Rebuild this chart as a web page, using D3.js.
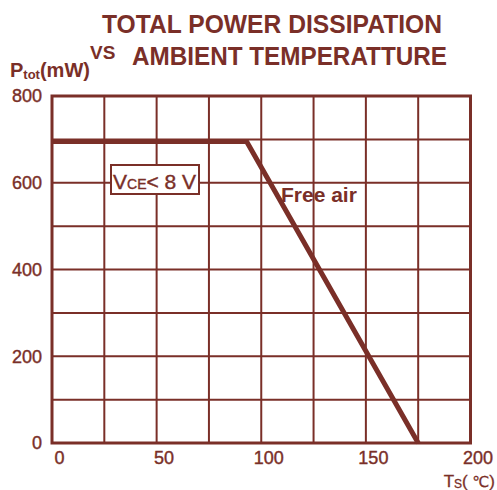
<!DOCTYPE html>
<html>
<head>
<meta charset="utf-8">
<script src="https://cdn.jsdelivr.net/npm/d3@7"></script>
<style>
  body { margin: 0; background: #fff; }
  svg text { font-family: "Liberation Sans", Arial, sans-serif; fill: #7a2f28; }
</style>
</head>
<body>
<div id="chart-area"></div>
<script>
const width = 497;
const height = 490;
const ink = "#7a2f28";

// curve: ambient temperature (deg C) vs total power (mW)
const temps = [0, 93, 175];
const power = [695, 695, 0];

const xTicks = [0, 50, 100, 150, 200];
const yTicks = [0, 200, 400, 600, 800];
const xGrid = d3.range(0, 201, 25);
const yGrid = d3.range(0, 801, 100);

const svg = d3.select("#chart-area")
    .append("svg")
    .attr("width", width)
    .attr("height", height);

const x = d3.scaleLinear().domain([0, 200]).range([52, 470.5]);
const y = d3.scaleLinear().domain([0, 800]).range([443, 96]);

// grid
svg.append("g").selectAll("line")
    .data(xGrid)
    .enter().append("line")
    .attr("x1", d => x(d)).attr("x2", d => x(d))
    .attr("y1", y(0)).attr("y2", y(800))
    .attr("stroke", ink)
    .attr("stroke-width", 2);

svg.append("g").selectAll("line")
    .data(yGrid)
    .enter().append("line")
    .attr("x1", x(0)).attr("x2", x(200))
    .attr("y1", d => y(d)).attr("y2", d => y(d))
    .attr("stroke", ink)
    .attr("stroke-width", 2);

// frame
svg.append("rect")
    .attr("x", x(0)).attr("y", y(800))
    .attr("width", x(200) - x(0))
    .attr("height", y(0) - y(800))
    .attr("fill", "none")
    .attr("stroke", ink)
    .attr("stroke-width", 3);

// axes labels
const xAxis = svg.append("g")
    .attr("transform", `translate(7, ${y(0)})`)
    .call(d3.axisBottom(x).tickValues(xTicks).tickSize(0).tickPadding(8));
xAxis.select(".domain").remove();
xAxis.selectAll("text")
    .style("font-size", "18px")
    .attr("fill", ink)
    .attr("stroke", ink)
    .attr("stroke-width", 0.4);

const yAxis = svg.append("g")
    .attr("transform", `translate(${x(0) - 10}, 0)`)
    .call(d3.axisLeft(y).tickValues(yTicks).tickSize(0).tickPadding(0));
yAxis.select(".domain").remove();
yAxis.selectAll("text")
    .style("font-size", "18px")
    .attr("fill", ink)
    .attr("stroke", ink)
    .attr("stroke-width", 0.4);

// the curve
const line = d3.line()
    .x((d, i) => x(temps[i]))
    .y(d => y(d));

svg.append("path")
    .attr("d", line(power))
    .attr("fill", "none")
    .attr("stroke", ink)
    .attr("stroke-width", 5);

// V_CE box
svg.append("rect")
    .attr("x", 111).attr("y", 165)
    .attr("width", 88).attr("height", 29)
    .attr("fill", "#fff")
    .attr("stroke", ink)
    .attr("stroke-width", 2);

const vce = svg.append("text")
    .attr("x", 113).attr("y", 189)
    .style("font-size", "21px")
    .attr("stroke", ink)
    .attr("stroke-width", 0.4);
vce.append("tspan").text("V");
vce.append("tspan").text("CE").style("font-size", "14px");
vce.append("tspan").text("< 8 V");

svg.append("text")
    .attr("x", 281).attr("y", 202)
    .style("font-size", "21px")
    .style("font-weight", "bold")
    .text("Free air");

// titles
svg.append("text")
    .attr("x", 102).attr("y", 33)
    .attr("textLength", 340).attr("lengthAdjust", "spacingAndGlyphs")
    .style("font-size", "25px")
    .style("font-weight", "bold")
    .text("TOTAL POWER DISSIPATION");

svg.append("text")
    .attr("x", 132).attr("y", 65)
    .attr("textLength", 315).attr("lengthAdjust", "spacingAndGlyphs")
    .style("font-size", "25px")
    .style("font-weight", "bold")
    .text("AMBIENT TEMPERATTURE");

svg.append("text")
    .attr("x", 90).attr("y", 59)
    .style("font-size", "19px")
    .style("font-weight", "bold")
    .text("VS");

const ptot = svg.append("text")
    .attr("x", 10).attr("y", 77)
    .style("font-size", "20px")
    .style("font-weight", "bold");
ptot.append("tspan").text("P");
ptot.append("tspan").text("tot").style("font-size", "13px").attr("dy", 2);
ptot.append("tspan").text("(mW)").attr("dy", -2);

const ts = svg.append("text")
    .attr("x", 495).attr("y", 487)
    .attr("text-anchor", "end")
    .style("font-size", "17px")
    .attr("stroke", ink)
    .attr("stroke-width", 0.3);
ts.append("tspan").text("T");
ts.append("tspan").text("S").style("font-size", "12px").attr("dy", 1);
ts.append("tspan").text("( ").attr("dy", -1);
ts.append("tspan").text("℃").style("font-size", "15px")
    .style("font-family", "'DejaVu Sans', sans-serif");
ts.append("tspan").text(")");
</script>
</body>
</html>
